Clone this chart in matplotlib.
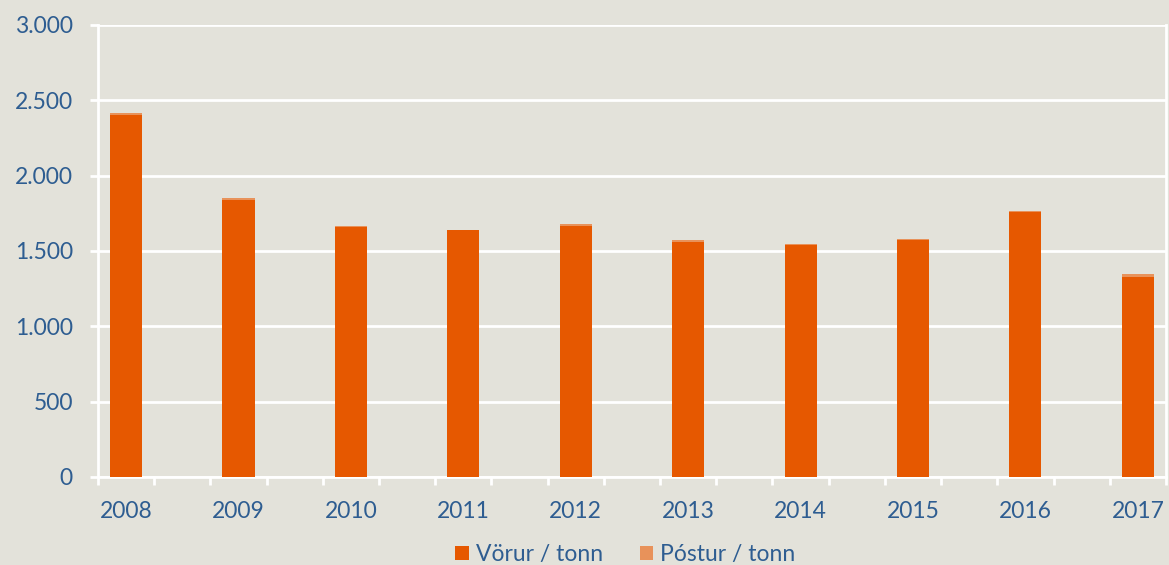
import matplotlib.pyplot as plt
from matplotlib.ticker import FuncFormatter
import numpy as np

years = ['2008', '2009', '2010', '2011', '2012', '2013', '2014', '2015', '2016', '2017']
vorur = [2403, 1838, 1660, 1636, 1668, 1560, 1542, 1576, 1758, 1325]
postur = [13, 13, 6, 4, 13, 12, 4, 4, 6, 22]

bg = '#E3E2DA'
txt = '#2E5D91'
c_vorur = '#E65800'
c_postur = '#E8925A'

plt.rcParams['font.family'] = ['Lato', 'DejaVu Sans']

fig = plt.figure(figsize=(11.69, 5.65), dpi=100, facecolor=bg)
ax = fig.add_axes([0.0838, 0.1558, 0.9136, 0.80])
ax.set_facecolor(bg)

x = np.arange(len(years))
ax.bar(x, vorur, width=0.285, color=c_vorur, label='Vörur / tonn', zorder=3)
ax.bar(x, postur, width=0.285, bottom=vorur, color=c_postur, label='Póstur / tonn', zorder=3)

ax.set_xlim(-0.25, len(years) - 0.75)
ax.set_ylim(0, 3000)
ax.set_yticks(range(0, 3001, 500))
ax.yaxis.set_major_formatter(FuncFormatter(lambda v, p: f'{int(v):,}'.replace(',', '.')))
ax.set_xticks(x)
ax.set_xticklabels(years)
ax.set_xticks(np.arange(-0.25, len(years) - 0.5, 0.5), minor=True)

ax.grid(axis='y', color='white', linewidth=2, zorder=0)
for s in ['left', 'bottom', 'right']:
    ax.spines[s].set_color('white')
    ax.spines[s].set_linewidth(2)
ax.spines['top'].set_visible(False)

ax.tick_params(axis='y', colors='white', length=6, width=2, labelcolor=txt, labelsize=16.5, pad=12)
ax.tick_params(axis='x', which='major', length=0, labelcolor=txt, labelsize=16.5, pad=17)
ax.tick_params(axis='x', which='minor', colors='white', length=6, width=2)

fig.legend(loc='lower center', bbox_to_anchor=(0.535, -0.037), ncol=2, frameon=False,
           fontsize=16.5, labelcolor=txt, handlelength=0.6, handleheight=0.6,
           handletextpad=0.3, columnspacing=1.6)

plt.savefig('out.png', dpi=100, facecolor=bg)
